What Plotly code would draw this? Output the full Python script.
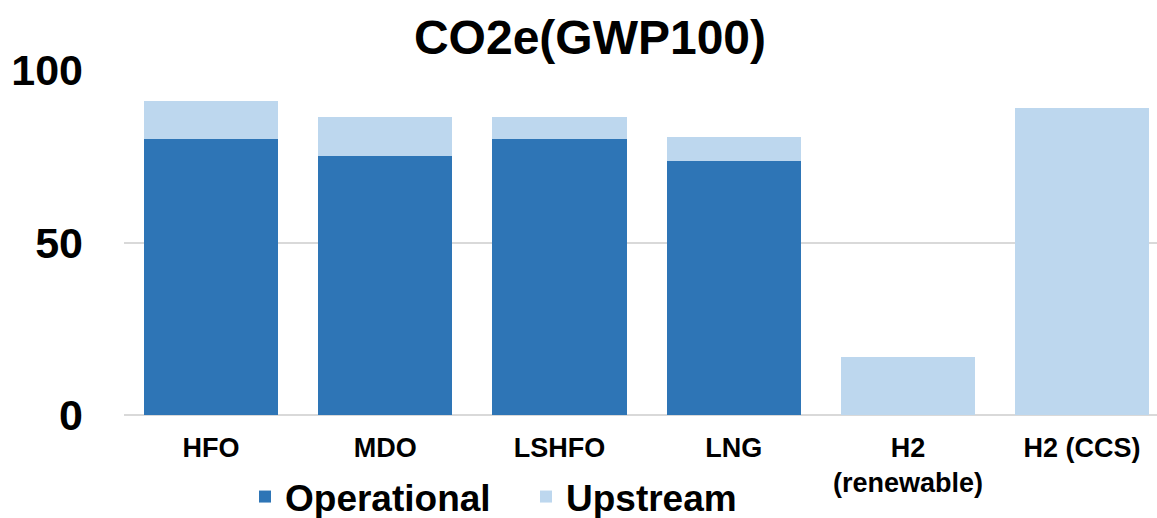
import plotly.graph_objects as go

categories = ["HFO", "MDO", "LSHFO", "LNG", "H2<br>(renewable)", "H2 (CCS)"]
operational = [80, 75, 80, 73.7, 0, 0]
upstream = [11, 11.3, 6.3, 7, 16.7, 89]
y_ticks = [0, 50, 100]

FONT = "Liberation Sans, Arial, sans-serif"
W, H = 1157, 518

fig = go.Figure()
fig.add_trace(go.Bar(name="Operational", x=categories, y=operational,
                     marker=dict(color="#2E75B6", line=dict(width=0))))
fig.add_trace(go.Bar(name="Upstream", x=categories, y=upstream,
                     marker=dict(color="#BDD7EE", line=dict(width=0))))

fig.update_layout(
    width=W, height=H,
    barmode="stack", bargap=0.23,
    paper_bgcolor="white", plot_bgcolor="white",
    margin=dict(l=124, r=0, t=70, b=103),
    font=dict(family=FONT, color="black"),
    title=dict(text="CO2e(GWP100)", x=590 / W, xref="container", xanchor="center",
               y=1 - 37 / H, yref="container", yanchor="middle",
               font=dict(family=FONT, size=48, weight="bold", color="black")),
    xaxis=dict(range=[-0.5, 5.43], showgrid=False, showline=False, ticks="",
               automargin=False,
               tickfont=dict(family=FONT, size=27, weight="bold", color="black"),
               ticklabelstandoff=14),
    yaxis=dict(range=[0, 100], tickvals=y_ticks, showgrid=True, gridcolor="#d9d9d9",
               gridwidth=2, zeroline=True, zerolinecolor="#d9d9d9", zerolinewidth=2,
               showline=False, ticks="", ticklabelstandoff=40, automargin=False,
               tickfont=dict(family=FONT, size=43, weight="bold", color="black")),
    legend=dict(orientation="h", xref="container", yref="container",
                x=245 / W, xanchor="left", y=1 - 497 / H, yanchor="middle",
                font=dict(family=FONT, size=37, weight="bold", color="black"),
                traceorder="normal", itemwidth=30, entrywidth=236),
)

fig.write_html("out.html", config={"displayModeBar": False},
               post_script="document.body.style.margin='0';")
